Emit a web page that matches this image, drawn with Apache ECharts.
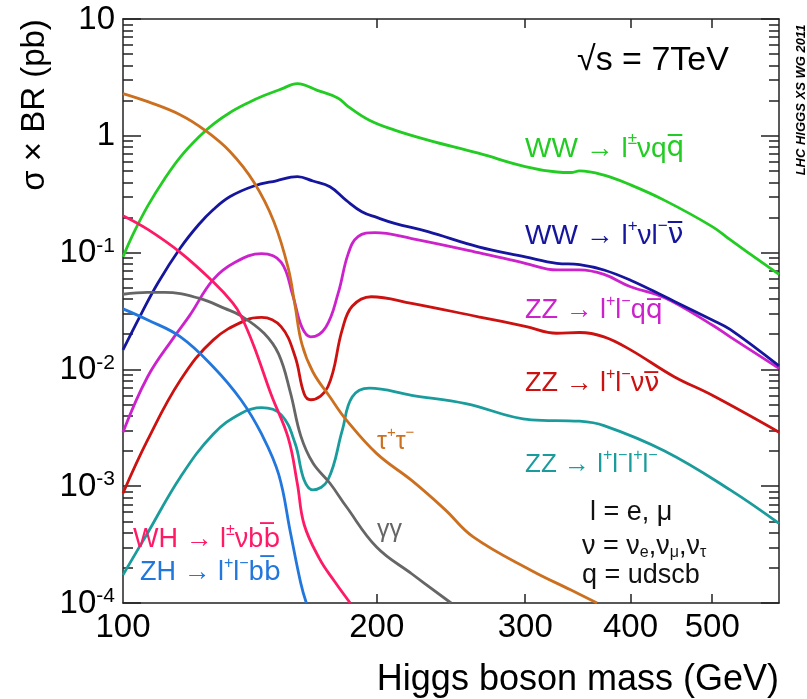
<!DOCTYPE html>
<html>
<head>
<meta charset="utf-8">
<script src="https://cdn.jsdelivr.net/npm/echarts@6/dist/echarts.min.js"></script>
<style>
  html, body { margin: 0; padding: 0; background: #fff; }
  #chart { width: 807px; height: 699px; }
</style>
</head>
<body>
<div id="chart"></div>
<script type="text/javascript">
	// masses (GeV) and sigma x BR (pb)
	var wwQqMass = [100, 103, 107, 112, 117, 123, 128, 134, 141, 147, 154, 161, 170, 180, 185, 196, 210, 230, 264, 300, 327, 340, 348, 372, 400, 439, 500, 525, 600];
	var wwQqXs = [0.092, 0.148, 0.251, 0.427, 0.661, 0.977, 1.26, 1.585, 1.93, 2.21, 2.51, 2.8, 2.45, 2.1, 1.78, 1.36, 1.12, 0.92, 0.71, 0.545, 0.49, 0.485, 0.50, 0.46, 0.38, 0.28, 0.167, 0.129, 0.065];

	var wwLvMass = [100, 105, 110, 117, 123, 128, 134, 143, 152, 161, 168, 176, 184, 192, 200, 210, 230, 264, 300, 327, 348, 372, 400, 439, 500, 525, 600];
	var wwLvXs = [0.0147, 0.0295, 0.055, 0.11, 0.174, 0.234, 0.302, 0.372, 0.412, 0.447, 0.41, 0.366, 0.28, 0.224, 0.20, 0.178, 0.151, 0.112, 0.092, 0.081, 0.079, 0.071, 0.058, 0.042, 0.0265, 0.022, 0.0107];

	var zzQqMass = [100, 107, 115, 120, 128, 136, 146, 154, 159, 163, 167, 174, 180, 185, 190, 199, 220, 264, 300, 327, 348, 372, 400, 439, 500, 525, 600];
	var zzQqXs = [0.0029, 0.0087, 0.019, 0.029, 0.059, 0.083, 0.098, 0.083, 0.043, 0.023, 0.019, 0.023, 0.045, 0.098, 0.137, 0.148, 0.132, 0.10, 0.081, 0.071, 0.071, 0.065, 0.051, 0.041, 0.024, 0.019, 0.0102];

	var zzNnMass = [100, 107, 117, 128, 140, 146, 154, 160, 164, 167, 175, 182, 187, 197, 220, 264, 300, 327, 348, 372, 400, 450, 500, 600];
	var zzNnXs = [0.00087, 0.0025, 0.0081, 0.0179, 0.0265, 0.0279, 0.0232, 0.0129, 0.0062, 0.0055, 0.0071, 0.0219, 0.0347, 0.0419, 0.0368, 0.0282, 0.0234, 0.0204, 0.0207, 0.019, 0.0147, 0.0087, 0.006, 0.0029];

	var zz4lMass = [100, 107, 117, 128, 138, 146, 154, 160, 164, 168, 175, 182, 187, 196, 220, 255, 305, 348, 372, 439, 525, 600];
	var zz4lXs = [0.000174, 0.0004, 0.0012, 0.0028, 0.0042, 0.0047, 0.0041, 0.00233, 0.00113, 0.00093, 0.00113, 0.003, 0.0058, 0.0069, 0.006, 0.0051, 0.0037, 0.0036, 0.0033, 0.002, 0.00093, 0.00048];

	var tauMass = [100, 107, 117, 125, 134, 143, 151, 157, 160, 163, 168, 176, 184, 200, 220, 241, 260, 305, 340, 365];
	var tauXs = [2.3, 1.96, 1.51, 1.12, 0.73, 0.40, 0.184, 0.074, 0.035, 0.0165, 0.0095, 0.0058, 0.0037, 0.0019, 0.00112, 0.00063, 0.00037, 0.00019, 0.000129, 0.0001];

	var gamMass = [100, 107, 112, 123, 132, 138, 147, 153, 158, 162.5, 168, 176, 184, 200, 220, 245];
	var gamXs = [0.044, 0.0457, 0.0457, 0.0407, 0.0333, 0.0288, 0.0204, 0.0135, 0.0063, 0.0027, 0.00158, 0.00106, 0.00067, 0.0003, 0.000178, 0.0001];

	var whMass = [100, 107, 117, 128, 135, 138, 143, 150, 157, 161, 164, 171, 178, 186];
	var whXs = [0.207, 0.158, 0.1, 0.056, 0.037, 0.0288, 0.0158, 0.006, 0.0026, 0.00105, 0.00047, 0.00024, 0.000155, 0.0001];

	var zhMass = [100, 107, 117, 128, 138, 146, 153, 158, 162.5, 165];
	var zhXs = [0.033, 0.0265, 0.019, 0.0105, 0.0055, 0.0028, 0.00126, 0.0004, 0.000148, 0.0001];

	var xTickLabels = [100, 200, 300, 400, 500];

	var LOG = Math.log10;
	var X_MIN = 2, X_MAX = LOG(600);
	var FONT = 'Liberation Sans, Arial, Helvetica, sans-serif';

	function toXY(mass, xs) {
		return mass.map(function (m, i) { return [LOG(m), LOG(xs[i])]; });
	}

	var minorY = [];
	for (var d = -4; d < 1; d++) {
		for (var k = 2; k <= 9; k++) minorY.push(d + LOG(k));
	}
	var xTickVals = xTickLabels.slice(1).map(LOG);
	var xLabelVals = xTickLabels.map(LOG);

	var axisColor = '#222';

	function line(name, mass, xs, color) {
		return {
			name: name,
			type: 'line',
			data: toXY(mass, xs),
			showSymbol: false,
			smooth: 0.4,
			clip: true,
			lineStyle: { color: color, width: 2.8 },
			itemStyle: { color: color },
			xAxisIndex: 0,
			yAxisIndex: 0
		};
	}

	function rich(size, color) {
		return {
			a: { fontSize: size, fontFamily: FONT, fill: color, color: color, lineHeight: size * 1.15, verticalAlign: 'bottom' },
			s: { fontSize: Math.round(size * 0.6), fontFamily: FONT, fill: color, color: color, lineHeight: Math.round(size * 0.7), verticalAlign: 'top' },
			d: { fontSize: Math.round(size * 0.6), fontFamily: FONT, fill: color, color: color, lineHeight: Math.round(size * 0.7), verticalAlign: 'bottom' },
			o: { fontSize: size, fontFamily: 'DejaVu Sans', fill: color, color: color, lineHeight: size * 1.15, verticalAlign: 'bottom' }
		};
	}

	function note(x, y, text, size, color) {
		return {
			type: 'text', x: x, y: y, z: 100,
			style: { text: text, rich: rich(size, color), fill: color, align: 'left', verticalAlign: 'middle' }
		};
	}

	var cGreen = '#22cc22', cNavy = '#15159e', cMagenta = '#cc22cc', cRed = '#cc1111',
		cTeal = '#1a9c9c', cOrange = '#cc7020', cGray = '#666666', cPink = '#ff1a66', cBlue = '#2277dd';

	var option = {
		animation: false,
		backgroundColor: '#fff',
		grid: { left: 123, right: 28, top: 19, bottom: 96, containLabel: false, outerBoundsMode: 'none' },
		xAxis: [{
			type: 'value', position: 'bottom', min: X_MIN, max: X_MAX,
			axisLine: { show: true, onZero: false, lineStyle: { color: axisColor, width: 1.5 } },
			axisTick: { show: true, inside: true, length: 9, customValues: xTickVals, lineStyle: { color: axisColor, width: 1.5 } },
			axisLabel: {
				customValues: xLabelVals, margin: 8, color: '#000', fontSize: 33, fontFamily: FONT,
				formatter: function (v) { return String(Math.round(Math.pow(10, v))); }
			},
			splitLine: { show: false }
		}, {
			type: 'value', position: 'top', min: X_MIN, max: X_MAX,
			axisLine: { show: true, onZero: false, lineStyle: { color: axisColor, width: 1.5 } },
			axisTick: { show: true, inside: true, length: 9, customValues: xTickVals, lineStyle: { color: axisColor, width: 1.5 } },
			axisLabel: { show: false },
			splitLine: { show: false }
		}],
		yAxis: [{
			type: 'value', position: 'left', min: -4, max: 1, interval: 1,
			axisLine: { show: true, onZero: false, lineStyle: { color: axisColor, width: 1.5 } },
			axisTick: { show: true, inside: true, length: 18, lineStyle: { color: axisColor, width: 1.5 } },
			axisLabel: {
				margin: 8, color: '#000',
				formatter: function (v) {
					var e = Math.round(v);
					if (e === 1) return '{b|10}';
					if (e === 0) return '{b|1}';
					return '{b|10}{s|' + e + '}';
				},
				rich: {
					b: { fontSize: 33, fontFamily: FONT, color: '#000', lineHeight: 34, verticalAlign: 'bottom' },
					s: { fontSize: 21, fontFamily: FONT, color: '#000', lineHeight: 20, verticalAlign: 'top' }
				}
			},
			splitLine: { show: false }
		}, {
			type: 'value', position: 'left', min: -4, max: 1,
			axisLine: { show: false },
			axisTick: { show: true, inside: true, length: 10, customValues: minorY, lineStyle: { color: axisColor, width: 1.5 } },
			axisLabel: { show: false },
			splitLine: { show: false }
		}, {
			type: 'value', position: 'right', min: -4, max: 1, interval: 1,
			axisLine: { show: true, onZero: false, lineStyle: { color: axisColor, width: 1.5 } },
			axisTick: { show: true, inside: true, length: 18, lineStyle: { color: axisColor, width: 1.5 } },
			axisLabel: { show: false },
			splitLine: { show: false }
		}, {
			type: 'value', position: 'right', min: -4, max: 1,
			axisLine: { show: false },
			axisTick: { show: true, inside: true, length: 10, customValues: minorY, lineStyle: { color: axisColor, width: 1.5 } },
			axisLabel: { show: false },
			splitLine: { show: false }
		}],
		series: [
			line('WW → lνqq', wwQqMass, wwQqXs, cGreen),
			line('ZZ → llqq', zzQqMass, zzQqXs, cMagenta),
			line('WW → lνlν', wwLvMass, wwLvXs, cNavy),
			line('ZZ → llνν', zzNnMass, zzNnXs, cRed),
			line('ZZ → llll', zz4lMass, zz4lXs, cTeal),
			line('ττ', tauMass, tauXs, cOrange),
			line('γγ', gamMass, gamXs, cGray),
			line('WH → lνbb', whMass, whXs, cPink),
			line('ZH → llbb', zhMass, zhXs, cBlue)
		],
		graphic: [
			{
				type: 'text', x: 35, y: 105, rotation: Math.PI / 2,
				style: { text: 'σ × BR (pb)', font: '33px ' + FONT, fill: '#000', align: 'center', verticalAlign: 'middle' }
			},
			{
				type: 'text', x: 779, y: 680,
				style: { text: 'Higgs boson mass (GeV)', font: '36px ' + FONT, fill: '#000', align: 'right', verticalAlign: 'middle' }
			},
			{
				type: 'text', x: 801, y: 100, rotation: Math.PI / 2,
				style: { text: 'LHC HIGGS XS WG 2011', font: 'italic bold 13px ' + FONT, fill: '#000', align: 'center', verticalAlign: 'middle' }
			},
			{
				type: 'text', x: 577, y: 61,
				style: { text: '√s = 7TeV', font: '34px ' + FONT, fill: '#000', align: 'left', verticalAlign: 'middle' }
			},
			note(525, 147, '{a|WW → l}{s|±}{a|νq}{o|q\u0305}', 28, cGreen),
			note(525, 234, '{a|WW → l}{s|+}{a|νl}{s|−}{o|ν\u0305}', 28, cNavy),
			note(525, 309, '{a|ZZ → l}{s|+}{a|l}{s|−}{a|q}{o|q\u0305}', 27, cMagenta),
			note(525, 382, '{a|ZZ → l}{s|+}{a|l}{s|−}{a|ν}{o|ν\u0305}', 27, cRed),
			note(525, 463, '{a|ZZ → l}{s|+}{a|l}{s|−}{a|l}{s|+}{a|l}{s|−}', 26, cTeal),
			note(377, 440, '{a|τ}{s|+}{a|τ}{s|−}', 25, cOrange),
			note(377, 528, '{a|γγ}', 25, cGray),
			note(133, 538, '{a|WH → l}{s|±}{a|νb}{o|b\u0305}', 27, cPink),
			note(140, 571, '{a|ZH → l}{s|+}{a|l}{s|−}{a|b}{o|b\u0305}', 27, cBlue),
			note(590, 511, '{a|l = e, μ}', 27, '#111'),
			note(582, 545, '{a|ν = ν}{d|e}{a|,ν}{d|μ}{a|,ν}{d|τ}', 27, '#111'),
			note(582, 574, '{a|q = udscb}', 27, '#111')
		]
	};

	var chart = echarts.init(document.getElementById('chart'));
	chart.setOption(option);
</script>
</body>
</html>
